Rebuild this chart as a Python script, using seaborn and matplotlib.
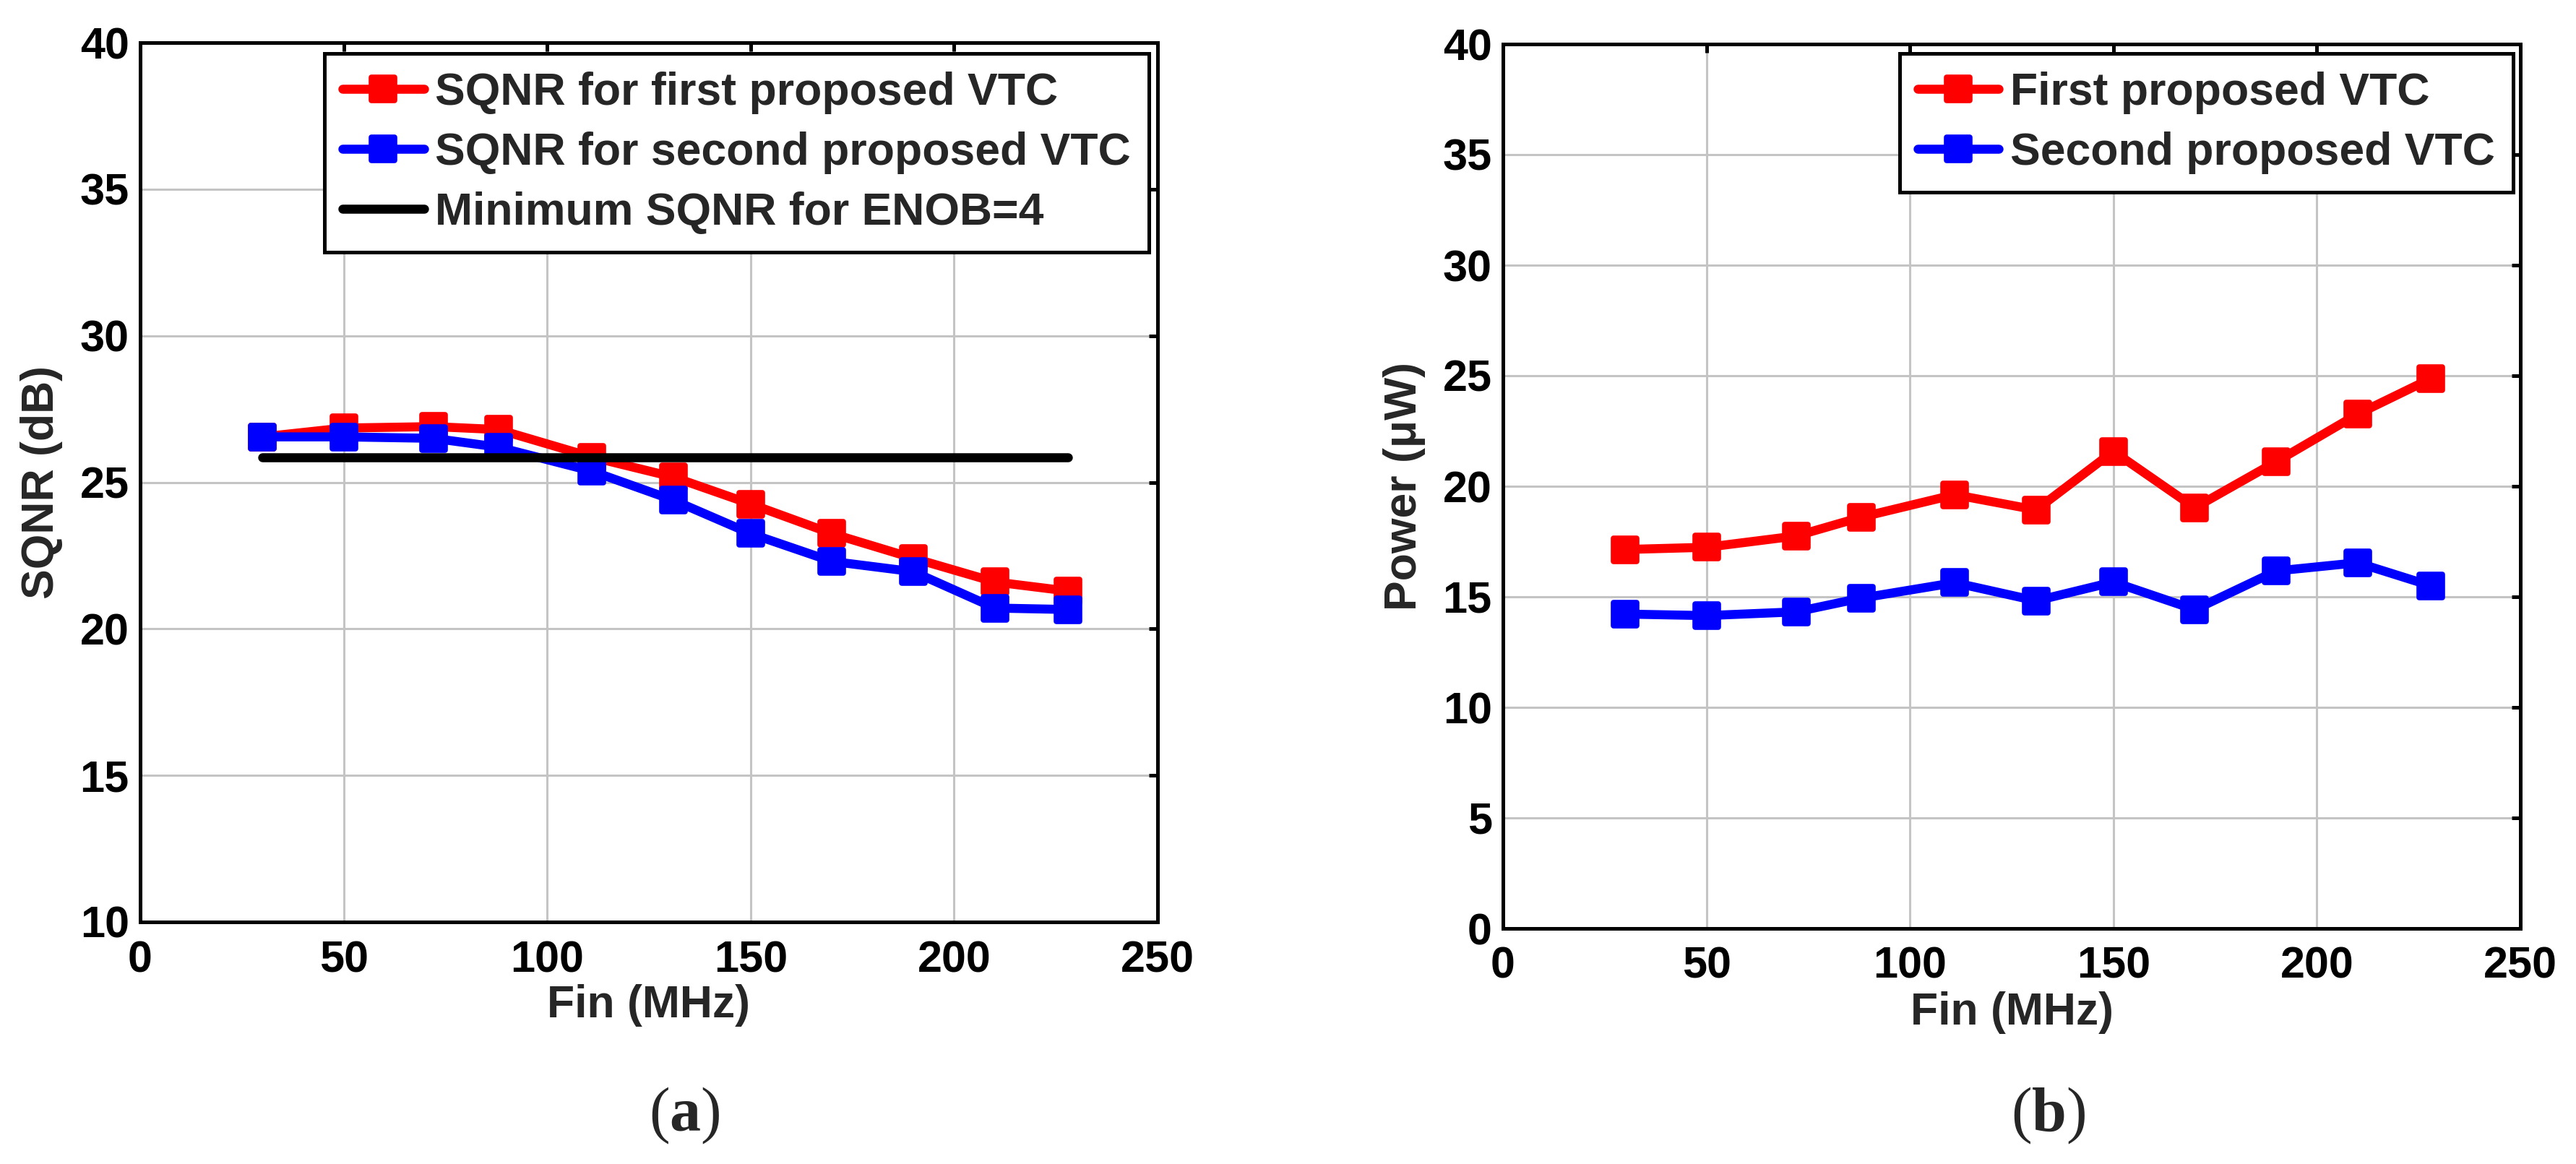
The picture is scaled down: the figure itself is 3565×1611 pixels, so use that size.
import matplotlib
matplotlib.use("Agg")
import matplotlib.pyplot as plt
from matplotlib.markers import MarkerStyle
import seaborn as sns
import pandas as pd

# ---------------- data ----------------
fin_mhz = [30, 50, 72, 88, 111, 131, 150, 170, 190, 210, 228]

sqnr_first = [26.55, 26.85, 26.9, 26.8, 25.86, 25.18, 24.26, 23.25, 22.41, 21.6, 21.29]
sqnr_second = [26.55, 26.55, 26.5, 26.2, 25.38, 24.39, 23.25, 22.3, 21.95, 20.71, 20.66]
sqnr_min_x = [30, 228]
sqnr_min_y = [25.84, 25.84]

power_first = [17.14, 17.24, 17.75, 18.6, 19.62, 18.93, 21.58, 19.03, 21.11, 23.26, 24.87]
power_second = [14.22, 14.15, 14.32, 14.94, 15.64, 14.82, 15.67, 14.42, 16.17, 16.54, 15.5]

xticks = [0, 50, 100, 150, 200, 250]
yticks_a = [10, 15, 20, 25, 30, 35, 40]
yticks_b = [0, 5, 10, 15, 20, 25, 30, 35, 40]

labels_a = ["SQNR for first proposed VTC", "SQNR for second proposed VTC",
            "Minimum SQNR for ENOB=4"]
labels_b = ["First proposed VTC", "Second proposed VTC"]

# ---------------- style ----------------
sns.set_theme(style="white")
plt.rcParams["font.family"] = ["Liberation Sans", "DejaVu Sans"]
plt.rcParams["font.weight"] = "bold"
plt.rcParams["axes.labelweight"] = "bold"
plt.rcParams["mathtext.fontset"] = "custom"
plt.rcParams["mathtext.rm"] = "Liberation Serif"
plt.rcParams["mathtext.bf"] = "Liberation Serif:bold"

W, H = 3566, 1611
fig = plt.figure(figsize=(W / 100, H / 100), dpi=100)
fig.patch.set_facecolor("white")

ax_a = fig.add_axes([194 / W, 1 - 1276 / H, 1408 / W, 1217 / H])
ax_b = fig.add_axes([2080 / W, 1 - 1285 / H, 1408 / W, 1224 / H])

LW = 9
sq = MarkerStyle("s", joinstyle="round")


def mk(color):
    return dict(marker=sq, markersize=23, markeredgewidth=5.5,
                markeredgecolor=color, markerfacecolor=color)


df_a = pd.DataFrame({"fin": fin_mhz, "first": sqnr_first, "second": sqnr_second})
df_b = pd.DataFrame({"fin": fin_mhz, "first": power_first, "second": power_second})
df_min = pd.DataFrame({"fin": sqnr_min_x, "v": sqnr_min_y})

sns.lineplot(data=df_a, x="fin", y="first", ax=ax_a, color="#ff0000", lw=LW,
             label=labels_a[0], **mk("#ff0000"))
sns.lineplot(data=df_a, x="fin", y="second", ax=ax_a, color="#0000ff", lw=LW,
             label=labels_a[1], **mk("#0000ff"))
sns.lineplot(data=df_min, x="fin", y="v", ax=ax_a, color="black", lw=LW,
             label=labels_a[2])

sns.lineplot(data=df_b, x="fin", y="first", ax=ax_b, color="#ff0000", lw=LW,
             label=labels_b[0], **mk("#ff0000"))
sns.lineplot(data=df_b, x="fin", y="second", ax=ax_b, color="#0000ff", lw=LW,
             label=labels_b[1], **mk("#0000ff"))


def style(ax, ylim, yticks, ylabel):
    ax.set_xlim(0, 250)
    ax.set_ylim(*ylim)
    ax.set_xticks(xticks)
    ax.set_yticks(yticks)
    ax.set_axisbelow(True)
    ax.grid(True, color="#c4c4c4", linewidth=2.2, linestyle="-")
    for s in ax.spines.values():
        s.set_visible(True)
        s.set_color("black")
        s.set_linewidth(3.6)
    ax.tick_params(axis="both", direction="in", length=8.6, width=3.6,
                   top=True, right=True, labelsize=44, colors="black")
    ax.tick_params(axis="x", pad=18)
    ax.tick_params(axis="y", pad=11)
    for t in ax.get_xticklabels() + ax.get_yticklabels():
        t.set_fontweight("bold")
    ax.set_xlabel("Fin (MHz)", fontsize=45, fontweight="bold")
    ax.set_ylabel(ylabel, fontsize=45, fontweight="bold")
    ax.xaxis.set_label_coords(0.5, -0.095)
    ax.xaxis.label.set_va("center")
    ax.yaxis.set_label_coords(-0.097, 0.5)
    ax.yaxis.label.set_va("center")


style(ax_a, (10, 40), yticks_a, "SQNR (dB)")
style(ax_b, (0, 40), yticks_b, "Power (\u03bcW)")


def legend(ax, right_px, top_px):
    leg = ax.legend(loc="upper right", bbox_to_anchor=(right_px / W, 1 - top_px / H),
                    bbox_transform=fig.transFigure, borderaxespad=0,
                    fontsize=45, frameon=True, fancybox=False, framealpha=1,
                    edgecolor="black", handlelength=1.8, handletextpad=0.25,
                    labelspacing=0.38, borderpad=0.4, numpoints=1)
    leg.get_frame().set_linewidth(3.6)
    for t in leg.get_texts():
        t.set_fontweight("bold")
    return leg


legend(ax_a, 1590, 74)
legend(ax_b, 3478, 74)

fig.text(947 / W, 1 - 1544 / H, r"($\mathbf{a}$)", fontsize=62,
         ha="center", va="center", family="Liberation Serif", fontweight="normal")
fig.text(2835 / W, 1 - 1544 / H, r"($\mathbf{b}$)", fontsize=62,
         ha="center", va="center", family="Liberation Serif", fontweight="normal")

fig.savefig("out.png", dpi=100, facecolor="white")
